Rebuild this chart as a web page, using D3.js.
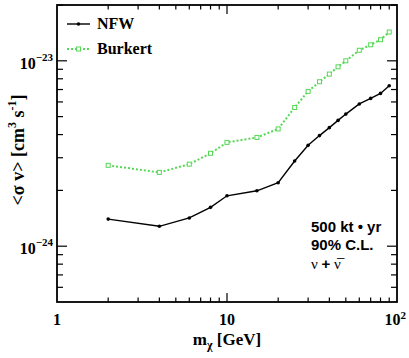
<!DOCTYPE html>
<html>
<head>
<meta charset="utf-8">
<script src="https://cdn.jsdelivr.net/npm/d3@7"></script>
<style>
  body { margin: 0; background: #fff; }
</style>
</head>
<body>
<svg id="chart" width="409" height="358"></svg>
<script>
const masses = [2, 4, 6, 8, 10, 15, 20, 25, 30, 35, 40, 45, 50, 60, 70, 80, 90];

const nfw = [1.40e-24, 1.28e-24, 1.42e-24, 1.62e-24, 1.87e-24, 1.99e-24, 2.20e-24,
  2.88e-24, 3.50e-24, 3.95e-24, 4.36e-24, 4.77e-24, 5.16e-24, 5.85e-24, 6.27e-24,
  6.67e-24, 7.33e-24];

const burkert = [2.73e-24, 2.50e-24, 2.77e-24, 3.17e-24, 3.63e-24, 3.86e-24, 4.29e-24,
  5.60e-24, 6.84e-24, 7.71e-24, 8.48e-24, 9.28e-24, 1.00e-23, 1.14e-23, 1.22e-23,
  1.30e-23, 1.43e-23];

const xMajor = [1, 10, 100];
const xMinor = [2, 3, 4, 5, 6, 7, 8, 9, 20, 30, 40, 50, 60, 70, 80, 90];
const yMajor = [1e-24, 1e-23];
const yMinor = [6e-25, 7e-25, 8e-25, 9e-25, 2e-24, 3e-24, 4e-24, 5e-24, 6e-24,
  7e-24, 8e-24, 9e-24, 2e-23];

const green = "#55d855";
const serif = "'Liberation Serif', 'DejaVu Serif', serif";
const sans = "'Liberation Sans', Arial, sans-serif";

const svg = d3.select("#chart");
const pl = 57, pr = 397, pt = 5, pb = 302;

const x = d3.scaleLog().domain([1, 100]).range([pl, pr]);
const y = d3.scaleLog().domain([5e-25, 2e-23]).range([pb, pt]);

function txt(xp, yp, size, s) {
  return svg.append("text").attr("x", xp).attr("y", yp)
    .attr("font-size", size).style("font-family", serif).style("font-weight", "bold")
    .text(s);
}

// ticks on all four sides
function xTicks(values, len) {
  values.forEach(v => {
    svg.append("line").attr("x1", x(v)).attr("x2", x(v))
      .attr("y1", pb).attr("y2", pb - len)
      .attr("stroke", "#000").attr("stroke-width", 1.2);
    svg.append("line").attr("x1", x(v)).attr("x2", x(v))
      .attr("y1", pt).attr("y2", pt + len)
      .attr("stroke", "#000").attr("stroke-width", 1.2);
  });
}
function yTicks(values, len) {
  values.forEach(v => {
    svg.append("line").attr("x1", pl).attr("x2", pl + len)
      .attr("y1", y(v)).attr("y2", y(v))
      .attr("stroke", "#000").attr("stroke-width", 1.2);
    svg.append("line").attr("x1", pr).attr("x2", pr - len)
      .attr("y1", y(v)).attr("y2", y(v))
      .attr("stroke", "#000").attr("stroke-width", 1.2);
  });
}
xTicks(xMinor, 4.5);
xTicks([10], 9);
yTicks(yMinor, 6);
yTicks(yMajor, 10);

// frame
svg.append("rect")
  .attr("x", pl).attr("y", pt)
  .attr("width", pr - pl).attr("height", pb - pt)
  .attr("fill", "none").attr("stroke", "#000").attr("stroke-width", 1.8);

// x tick labels
const xLab = ["1", "10", "10"];
xMajor.forEach((v, i) => {
  const last = i === xMajor.length - 1;
  const t = txt(last ? 406 : x(v), 325, 16, xLab[i])
    .attr("text-anchor", last ? "end" : "middle");
  if (last) t.append("tspan").attr("dy", -6).attr("font-size", 11).text("2");
});

// y tick labels
const yExp = ["\u221224", "\u221223"];
yMajor.forEach((v, i) => {
  const t = txt(53, y(v) + 8, 16, "10").attr("text-anchor", "end");
  t.append("tspan").attr("dy", -8).attr("font-size", 11).text(yExp[i]);
});

// axis titles
const xt = txt(227, 345, 17, "m").attr("text-anchor", "middle");
xt.append("tspan").attr("dy", 4).attr("font-size", 12).text("\u03c7");
xt.append("tspan").attr("dy", -4).text(" [GeV]");

const yt = txt(0, 0, 18, "<\u03c3 v> [cm")
  .attr("transform", "translate(24,150) rotate(-90)")
  .attr("text-anchor", "middle");
yt.append("tspan").attr("dy", -8).attr("font-size", 12).text("3");
yt.append("tspan").attr("dy", 8).text(" s");
yt.append("tspan").attr("dy", -8).attr("font-size", 12).text("-1");
yt.append("tspan").attr("dy", 8).text("]");

// series
const line = d3.line().x(d => x(d[0])).y(d => y(d[1]));
const nfwPts = masses.map((m, i) => [m, nfw[i]]);
const burPts = masses.map((m, i) => [m, burkert[i]]);

svg.append("path").attr("d", line(burPts))
  .attr("fill", "none").attr("stroke", green)
  .attr("stroke-width", 2).attr("stroke-dasharray", "2,2");
svg.selectAll("rect.bur").data(burPts).enter().append("rect")
  .attr("class", "bur")
  .attr("x", d => x(d[0]) - 2).attr("y", d => y(d[1]) - 2)
  .attr("width", 4).attr("height", 4)
  .attr("fill", "#fff").attr("stroke", green).attr("stroke-width", 1);

svg.append("path").attr("d", line(nfwPts))
  .attr("fill", "none").attr("stroke", "#000").attr("stroke-width", 1.4);
svg.selectAll("circle.nfw").data(nfwPts).enter().append("circle")
  .attr("class", "nfw")
  .attr("cx", d => x(d[0])).attr("cy", d => y(d[1])).attr("r", 1.8)
  .attr("fill", "#000");

// legend
svg.append("line").attr("x1", 67).attr("x2", 90).attr("y1", 24).attr("y2", 24)
  .attr("stroke", "#000").attr("stroke-width", 1.4);
svg.append("circle").attr("cx", 78.5).attr("cy", 24).attr("r", 1.8).attr("fill", "#000");
txt(97, 29, 16, "NFW");

svg.append("line").attr("x1", 67).attr("x2", 90).attr("y1", 49).attr("y2", 49)
  .attr("stroke", green).attr("stroke-width", 2).attr("stroke-dasharray", "2,2");
svg.append("rect").attr("x", 76.5).attr("y", 47).attr("width", 4).attr("height", 4)
  .attr("fill", "#fff").attr("stroke", green).attr("stroke-width", 1);
txt(97, 54, 16, "Burkert");

// annotation
txt(311, 231.5, 15, "500 kt  \u2022 yr").style("font-family", sans);
txt(311, 250, 15, "90% C.L.").style("font-family", sans);
const nu = txt(311, 269, 15, "\u03bd ").style("font-weight", "normal");
nu.append("tspan").style("font-family", sans).style("font-weight", "bold").text("+");
nu.append("tspan").text(" \u03bd\u0305");
</script>
</body>
</html>
